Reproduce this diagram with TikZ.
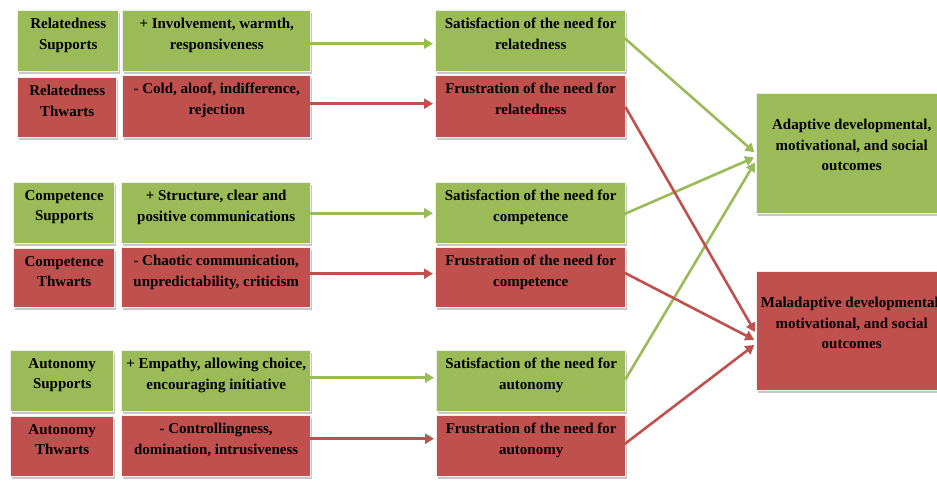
\documentclass[tikz,border=0pt]{standalone}
\usepackage{fontspec}
\setmainfont{Liberation Serif}
\usetikzlibrary{arrows.meta,shadows}
\definecolor{ogreen}{HTML}{9BBB59}
\definecolor{ored}{HTML}{C0504D}
\begin{document}
\begin{tikzpicture}[x=1pt,y=-1pt,
  box/.style={rectangle, inner sep=0pt, anchor=north west, draw=black!7, line width=1.4pt,
    drop shadow={shadow xshift=1.3pt, shadow yshift=-1.8pt, fill=black!40, opacity=0.55}},
  gbox/.style={box, fill=ogreen},
  rbox/.style={box, fill=ored},
  txt/.style={anchor=north, align=center, inner sep=0pt,
    font=\fontsize{15}{20.5}\selectfont\bfseries},
  garr/.style={draw=ogreen, line width=2.6pt, -{Triangle[length=9pt,width=10pt]}},
  rarr/.style={draw=ored, line width=2.6pt, -{Triangle[length=9pt,width=10pt]}}
]
\useasboundingbox (0,0) rectangle (937,480);
\clip (0,0) rectangle (937,480);

% ---- Row 1: relatedness
\node[gbox, minimum width=101pt, minimum height=61pt] (rsA) at (17,10) {};
\node[rbox, minimum width=99pt, minimum height=60pt] (rtA) at (17,77) {};
\node[gbox, minimum width=188pt, minimum height=61pt] (rsB) at (122,10) {};
\node[rbox, minimum width=188pt, minimum height=62pt] (rtB) at (122,75) {};
\node[gbox, minimum width=190pt, minimum height=61pt] (rsC) at (435,10) {};
\node[rbox, minimum width=190pt, minimum height=62pt] (rtC) at (435,75) {};

% ---- Row 2: competence
\node[gbox, minimum width=101pt, minimum height=61pt] (csA) at (13,182) {};
\node[rbox, minimum width=101pt, minimum height=59pt] (ctA) at (13,248) {};
\node[gbox, minimum width=189pt, minimum height=61pt] (csB) at (121,182) {};
\node[rbox, minimum width=189pt, minimum height=60pt] (ctB) at (121,247) {};
\node[gbox, minimum width=190pt, minimum height=61pt] (csC) at (435,182) {};
\node[rbox, minimum width=190pt, minimum height=60pt] (ctC) at (435,247) {};

% ---- Row 3: autonomy
\node[gbox, minimum width=103pt, minimum height=61pt] (asA) at (10,350) {};
\node[rbox, minimum width=103pt, minimum height=60pt] (atA) at (10,416) {};
\node[gbox, minimum width=189pt, minimum height=61pt] (asB) at (121,350) {};
\node[rbox, minimum width=189pt, minimum height=61pt] (atB) at (121,415) {};
\node[gbox, minimum width=189pt, minimum height=61pt] (asC) at (436,350) {};
\node[rbox, minimum width=189pt, minimum height=61pt] (atC) at (436,415) {};

% ---- Outcomes
\node[gbox, minimum width=190pt, minimum height=120pt] (ad) at (756,93) {};
\node[rbox, minimum width=190pt, minimum height=119pt] (mal) at (756,271) {};

% ---- Texts
\node[txt] (rsAt) at ([yshift=-8pt]rsA.north) {Relatedness\\Supports};
\node[txt] (rtAt) at ([yshift=-8pt]rtA.north) {Relatedness\\Thwarts};
\node[txt] (rsBt) at ([yshift=-8pt]rsB.north) {+ Involvement, warmth,\\responsiveness};
\node[txt] (rtBt) at ([yshift=-8pt]rtB.north) {- Cold, aloof, indifference,\\rejection};
\node[txt] (rsCt) at ([yshift=-8pt]rsC.north) {Satisfaction of the need for\\relatedness};
\node[txt] (rtCt) at ([yshift=-8pt]rtC.north) {Frustration of the need for\\relatedness};

\node[txt] (csAt) at ([yshift=-8pt]csA.north) {Competence\\Supports};
\node[txt] (ctAt) at ([yshift=-8pt]ctA.north) {Competence\\Thwarts};
\node[txt] (csBt) at ([yshift=-8pt]csB.north) {+ Structure, clear and\\positive communications};
\node[txt] (ctBt) at ([yshift=-8pt]ctB.north) {- Chaotic communication,\\unpredictability, criticism};
\node[txt] (csCt) at ([yshift=-8pt]csC.north) {Satisfaction of the need for\\competence};
\node[txt] (ctCt) at ([yshift=-8pt]ctC.north) {Frustration of the need for\\competence};

\node[txt] (asAt) at ([yshift=-8pt]asA.north) {Autonomy\\Supports};
\node[txt] (atAt) at ([yshift=-8pt]atA.north) {Autonomy\\Thwarts};
\node[txt] (asBt) at ([yshift=-8pt]asB.north) {+ Empathy, allowing choice,\\encouraging initiative};
\node[txt] (atBt) at ([yshift=-8pt]atB.north) {- Controllingness,\\domination, intrusiveness};
\node[txt] (asCt) at ([yshift=-8pt]asC.north) {Satisfaction of the need for\\autonomy};
\node[txt] (atCt) at ([yshift=-8pt]atC.north) {Frustration of the need for\\autonomy};

\node[txt] (adt) at ([yshift=-26pt]ad.north) {Adaptive developmental,\\motivational, and social\\outcomes};
\node[txt] (malt) at ([yshift=-26pt]mal.north) {Maladaptive developmental,\\motivational, and social\\outcomes};

% ---- Horizontal arrows
\draw[garr, shorten <=-2pt, shorten >=2pt] ([yshift=-2.5pt]rsB.east) -- ([yshift=-2.5pt]rsC.west);
\draw[rarr, shorten <=-2pt, shorten >=2pt] ([yshift=3pt]rtB.east) -- ([yshift=3pt]rtC.west);
\draw[garr, shorten <=-2pt, shorten >=2pt] (csB.east) -- (csC.west);
\draw[rarr, shorten <=-2pt, shorten >=2pt] ([yshift=4pt]ctB.east) -- ([yshift=4pt]ctC.west);
\draw[garr, shorten <=-2pt, shorten >=2pt] ([yshift=3.5pt]asB.east) -- ([yshift=3.5pt]asC.west);
\draw[rarr, shorten <=-2pt, shorten >=2pt] ([yshift=7.5pt]atB.east) -- ([yshift=7.5pt]atC.west);

% ---- Diagonal arrows
\draw[garr, shorten <=-2pt, shorten >=2pt] ([yshift=1.5pt]rsC.east) -- (ad.west);
\draw[garr, shorten <=-2pt, shorten >=2pt] (csC.east) -- ([yshift=-3pt]ad.west);
\draw[garr, shorten <=-2pt, shorten >=2pt] ([yshift=3.5pt]asC.east) -- ([yshift=-7pt]ad.west);
\draw[rarr, shorten <=-2pt, shorten >=2pt] ([yshift=-2pt]rtC.east) -- ([yshift=-2.5pt]mal.west);
\draw[rarr, shorten <=-2pt, shorten >=2pt] ([yshift=4pt]ctC.east) -- ([yshift=-9.5pt]mal.west);
\draw[rarr, shorten <=-2pt, shorten >=2pt] ([yshift=3.5pt]atC.east) -- ([yshift=-12.5pt]mal.west);
\end{tikzpicture}
\end{document}
